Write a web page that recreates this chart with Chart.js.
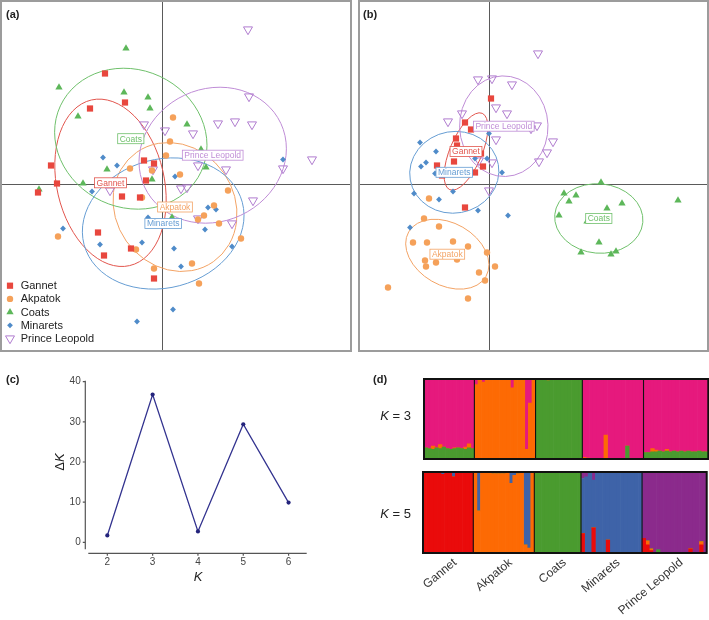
<!DOCTYPE html>
<html>
<head>
<meta charset="utf-8">
<script src="https://cdn.jsdelivr.net/npm/chart.js@4"></script>
<style>
  body { margin: 0; background: #fff; font-family: "Liberation Sans", Arial, sans-serif; }
  #fig { position: relative; width: 709px; height: 620px; overflow: hidden; }
  .frame { position: absolute; border: 2px solid #9c9c9c; }
  .box { position: absolute; }
  .tag { position: absolute; font-weight: bold; font-size: 11px; color: #222; line-height: 12px; }
  .txt { position: absolute; font-size: 13px; color: #222; line-height: 15px; white-space: nowrap; }
</style>
</head>
<body>
<div id="fig">
  <div class="frame" style="left:0;top:0;width:348px;height:348px"><canvas id="pa"></canvas></div>
  <div class="frame" style="left:358px;top:0;width:347px;height:348px"><canvas id="pb"></canvas></div>
  <div class="box" style="left:0;top:340px;width:340px;height:280px"><canvas id="pc"></canvas></div>
  <div class="box" style="left:340px;top:370px;width:369px;height:95px"><canvas id="pd3"></canvas></div>
  <div class="box" style="left:340px;top:465px;width:369px;height:155px"><canvas id="pd5"></canvas></div>

  <div class="tag" style="left:6px;top:8px">(a)</div>
  <div class="tag" style="left:363px;top:8px">(b)</div>
  <div class="tag" style="left:6px;top:373px">(c)</div>
  <div class="tag" style="left:373px;top:373px">(d)</div>
  <div class="txt" style="left:360px;width:51px;top:408px;text-align:right"><i>K</i> = 3</div>
  <div class="txt" style="left:360px;width:51px;top:506px;text-align:right"><i>K</i> = 5</div>
  <div class="txt" style="left:59px;top:462px;transform:translate(-50%,-50%) rotate(-90deg)">Δ<i>K</i></div>
  <div class="txt" style="left:198px;top:576px;transform:translate(-50%,-50%)"><i>K</i></div>
</div>

<script>
"use strict";

// ── Data ─────────────────────────────────────────────────────────────────────

const POPS = ["Gannet", "Akpatok", "Coats", "Minarets", "Prince Leopold"];

// (a) PCA scores, [x, y]
const A_GANNET = [[-5.7,11.0],[-3.7,8.1],[-7.2,7.5],[-11.1,1.8],[-10.5,0.0],[-12.4,-0.9],[-1.8,2.3],[-0.8,2.0],
  [-1.6,0.3],[-4.0,-1.3],[-2.2,-1.4],[-6.4,-4.9],[-3.1,-6.5],[-5.8,-7.2],[-0.8,-9.5]];
const A_AKPATOK = [[1.1,6.6],[0.8,4.2],[0.4,2.8],[-3.2,1.5],[-1.0,1.3],[1.8,0.9],[6.6,-0.7],[-2.0,-1.4],[5.2,-2.2],
  [4.2,-3.2],[5.7,-4.0],[3.6,-3.6],[-10.4,-5.3],[-2.6,-6.6],[7.9,-5.5],[-0.8,-8.5],[3.0,-8.0],[3.7,-10.0]];
const A_COATS = [[-3.6,13.5],[-10.3,9.6],[-3.8,9.1],[-1.4,8.6],[-1.2,7.5],[-8.4,6.7],[2.5,5.9],[3.9,3.4],[4.4,1.6],
  [-5.5,1.4],[-1.0,0.4],[-7.9,0.0],[-12.3,-0.6],[1.0,-3.4]];
const A_MINARETS = [[-5.9,2.6],[-4.5,1.8],[-7.0,-0.8],[1.3,0.7],[-1.4,-3.4],[4.6,-2.4],[5.4,-2.6],[-9.9,-4.5],
  [4.3,-4.6],[-6.2,-6.1],[-2.0,-5.9],[1.2,-6.5],[7.0,-6.3],[1.9,-8.3],[12.1,2.4],[1.1,-12.6],[-2.5,-13.8]];
const A_PRINCE = [[8.6,15.4],[8.7,8.7],[5.6,6.0],[7.3,6.2],[9.0,5.9],[-1.8,5.9],[0.3,5.3],[3.1,5.0],[3.6,1.8],
  [6.4,1.4],[12.1,1.5],[15.0,2.4],[-0.9,1.4],[-5.2,-0.7],[1.9,-0.5],[2.5,-0.4],[9.1,-1.7],[3.6,-3.5],[7.0,-4.0]];
// ellipses: [cx, cy, semi-major, semi-minor, angle deg]
const A_RINGS = [[-5.15,0.07,8.5,5.37,103],[1.3,-2.35,6.68,5.95,125],[-3.12,4.48,7.77,6.88,-25],
  [0.12,-4.0,8.19,6.43,15],[5.07,2.83,7.52,6.63,25]];

// (b) DAPC scores, [x, y]
const B_GANNET = [[0.2,8.5],[-2.4,6.1],[-1.8,5.4],[-3.3,4.5],[-3.2,3.8],[-0.8,3.0],[-3.5,2.2],[-5.2,1.8],
  [-0.6,1.7],[-1.4,1.1],[-4.7,0.8],[-2.4,-2.4]];
const B_AKPATOK = [[-6.0,-1.5],[-6.5,-3.5],[-5.0,-4.3],[-7.6,-5.9],[-6.2,-5.9],[-3.6,-5.8],[-2.1,-6.3],[-0.2,-6.9],
  [-6.4,-7.7],[-6.3,-8.3],[-5.3,-7.9],[-3.2,-7.6],[0.6,-8.3],[-1.0,-8.9],[-0.4,-9.7],[-10.1,-10.4],[-2.1,-11.5]];
const B_COATS = [[11.2,0.1],[7.5,-1.0],[8.7,-1.2],[8.0,-1.8],[13.3,-2.0],[11.8,-2.5],[18.9,-1.7],[7.0,-3.2],
  [9.8,-3.8],[11.0,-5.9],[9.2,-6.9],[12.2,-7.1],[12.7,-6.8]];
const B_MINARETS = [[-6.9,4.1],[-5.3,3.2],[-6.3,2.1],[-6.8,1.7],[-1.4,2.5],[-0.2,2.5],[0.0,5.0],[1.3,1.1],
  [-5.4,1.0],[-7.5,-1.0],[-5.0,-1.6],[-3.6,-0.8],[-1.1,-2.7],[1.9,-3.2],[-7.9,-4.4]];
const B_PRINCE = [[4.9,13.0],[-1.1,10.4],[0.3,10.5],[2.3,9.9],[0.7,7.6],[1.8,7.0],[-2.7,7.0],[-4.1,6.2],[4.8,5.8],
  [4.2,5.5],[0.7,4.4],[6.4,4.2],[5.8,3.1],[5.0,2.2],[0.3,2.1],[-1.0,2.3],[0.0,-0.7]];
const B_RINGS = [[-2.3,3.2,4.15,1.6,67],[-4.17,-7.07,4.46,3.11,-30],[10.98,-3.5,4.42,3.47,-5],
  [-3.47,1.12,4.47,4.08,10],[1.48,5.73,5.03,4.42,92]];

// (c) Evanno delta K
const K_VALUES = [2, 3, 4, 5, 6];
const DELTA_K = [1.7, 36.8, 2.7, 29.4, 9.9];
const DK_TICKS = [0, 10, 20, 30, 40];

// (d) STRUCTURE membership per individual, group order as POPS
const GROUP_SIZES = [14, 17, 13, 17, 18];
const K3_GREEN = [0.14,0.13,0.12,0.14,0.13,0.15,0.13,0.12,0.13,0.14,0.13,0.12,0.14,0.13,
  0,0,0,0,0,0,0,0,0,0,0,0,0,0,0,0,0,
  1,1,1,0.98,1,1,1,1,1,1,1,1,1,
  0,0,0,0,0,0,0,0,0,0,0,0,0.16,0,0,0,0,
  0.08,0.08,0.09,0.09,0.1,0.09,0.1,0.09,0.1,0.09,0.1,0.09,0.1,0.09,0.09,0.1,0.09,0.09];
const K3_ORANGE = [0,0,0.04,0,0.05,0,0,0,0.01,0,0,0.03,0.05,0,
  0.93,1,0.96,1,1,1,1,1,1,1,0.89,1,1,1,0.12,0.7,1,
  0,0,0,0.02,0,0,0,0,0,0,0,0,0,
  0.02,0.01,0,0,0,0,0.3,0,0,0,0,0,0,0,0,0,0,
  0,0,0.04,0.02,0,0,0.02,0,0,0,0,0,0,0,0,0,0,0];
const K3_PINK = [0.86,0.87,0.84,0.86,0.82,0.85,0.87,0.88,0.86,0.86,0.87,0.85,0.81,0.87,
  0.07,0,0.04,0,0,0,0,0,0,0,0.11,0,0,0,0.88,0.3,0,
  0,0,0,0,0,0,0,0,0,0,0,0,0,
  0.98,0.99,1,1,1,1,0.7,1,1,1,1,1,0.84,1,1,1,1,
  0.92,0.92,0.87,0.89,0.9,0.91,0.88,0.91,0.9,0.91,0.9,0.91,0.9,0.91,0.91,0.9,0.91,0.91];

const K5_RED = [1,1,1,1,1,0.97,1,1,0.94,1,1,1,1,1,
  0,0,0,0,0,0,0,0,0,0,0,0,0,0,0,0,0,
  0,0,0,0,0,0,0,0,0,0,0,0,0,
  0.24,0,0,0.31,0,0,0,0.16,0,0,0,0,0,0,0,0,0,
  0.18,0.1,0.03,0,0,0,0,0,0,0,0,0,0,0.05,0,0,0.1,0];
const K5_ORANGE = [0,0,0,0,0,0,0,0,0,0,0,0,0,0,
  1,0.52,1,1,1,0.98,0.98,0.98,0.98,1,0.86,0.96,0.98,1,0.1,0.06,1,
  0,0,0,0,0,0,0,0,0,0,0,0,0,
  0,0,0,0,0,0,0,0,0,0,0,0,0,0,0,0,0,
  0,0.05,0.02,0,0,0,0,0,0,0,0,0,0,0,0,0,0.04,0];
const K5_GREEN = [0,0,0,0,0,0,0,0,0,0,0,0,0,0,
  0,0,0,0,0,0,0,0,0,0,0,0,0,0,0,0,0,
  1,1,1,1,1,1,1,1,1,1,1,1,1,
  0,0,0,0,0,0,0,0,0,0,0,0,0,0,0,0,0,
  0,0,0,0,0.04,0,0,0,0,0,0,0,0,0,0,0,0,0];
const K5_BLUE = [0,0,0,0,0,0.03,0,0,0.06,0,0,0,0,0,
  0,0.48,0,0,0,0.02,0.02,0.02,0.02,0,0.14,0.04,0.02,0,0.9,0.94,0,
  0,0,0,0,0,0,0,0,0,0,0,0,0,
  0.68,0.94,1,0.59,1,1,1,0.84,1,1,1,1,1,1,1,1,1,
  0,0,0,0,0,0,0,0,0,0,0,0,0,0,0,0,0,0];
const K5_PURPLE = [0,0,0,0,0,0,0,0,0,0,0,0,0,0,
  0,0,0,0,0,0,0,0,0,0,0,0,0,0,0,0,0,
  0,0,0,0,0,0,0,0,0,0,0,0,0,
  0.08,0.06,0,0.1,0,0,0,0,0,0,0,0,0,0,0,0,0,
  0.82,0.85,0.95,1,0.96,1,1,1,1,1,1,1,1,0.95,1,1,0.86,1];

// ── Styles ───────────────────────────────────────────────────────────────────

const POP_COLORS  = ["#e8473e", "#f5a15a", "#5db75a", "#4f8bc9", "#b07ccf"];
const RING_COLORS = ["#e2554d", "#f3a365", "#6fc06b", "#669dd3", "#bf8cd6"];
const MARKERS = [
  { style: "rect", r: 4.4, rot: 0 },
  { style: "circle", r: 3.2, rot: 0 },
  { style: "triangle", r: 4.2, rot: 0 },
  { style: "rectRot", r: 2.9, rot: 0 },
  { style: "triangle", r: 5.2, rot: 180 },
];
const FONT = "'Liberation Sans', Arial, sans-serif";

Chart.defaults.font.family = FONT;
Chart.defaults.animation = false;
Chart.defaults.plugins.legend.display = false;
Chart.defaults.plugins.tooltip.enabled = false;

// ── Scatter panels (a), (b) ──────────────────────────────────────────────────

function drawMarker(ctx, i, x, y) {
  const m = MARKERS[i];
  ctx.beginPath();
  if (m.style === "rect") {
    const s = Math.SQRT1_2 * m.r;
    ctx.rect(x - s, y - s, 2 * s, 2 * s);
  } else if (m.style === "circle") {
    ctx.arc(x, y, m.r, 0, Math.PI * 2);
  } else if (m.style === "rectRot") {
    ctx.moveTo(x, y - m.r); ctx.lineTo(x + m.r, y); ctx.lineTo(x, y + m.r); ctx.lineTo(x - m.r, y);
    ctx.closePath();
  } else {
    const d = m.rot ? -1 : 1;
    ctx.moveTo(x, y - d * m.r);
    ctx.lineTo(x + m.r * 0.866, y + d * m.r * 0.5);
    ctx.lineTo(x - m.r * 0.866, y + d * m.r * 0.5);
    ctx.closePath();
  }
  if (i === 4) { ctx.strokeStyle = POP_COLORS[i]; ctx.lineWidth = 1; ctx.stroke(); }
  else { ctx.fillStyle = POP_COLORS[i]; ctx.fill(); }
}

function makeDecor(rings, withLegend) {
  return {
    id: "decor",
    beforeDatasetsDraw(chart) {
      const { ctx, chartArea: a, scales: { x, y } } = chart;
      ctx.save();
      ctx.strokeStyle = "#5a5a5a";
      ctx.lineWidth = 1;
      const x0 = Math.round(x.getPixelForValue(0)) + 0.5;
      const y0 = Math.round(y.getPixelForValue(0)) + 0.5;
      ctx.beginPath();
      ctx.moveTo(x0, a.top); ctx.lineTo(x0, a.bottom);
      ctx.moveTo(a.left, y0); ctx.lineTo(a.right, y0);
      ctx.stroke();

      const unit = x.getPixelForValue(1) - x.getPixelForValue(0);
      rings.forEach((e, i) => {
        ctx.beginPath();
        ctx.ellipse(x.getPixelForValue(e[0]), y.getPixelForValue(e[1]), e[2] * unit, e[3] * unit,
          -e[4] * Math.PI / 180, 0, Math.PI * 2);
        ctx.strokeStyle = RING_COLORS[i];
        ctx.lineWidth = 1;
        ctx.stroke();
      });
      ctx.restore();
    },
    afterDatasetsDraw(chart) {
      const { ctx, scales: { x, y } } = chart;
      ctx.save();
      ctx.font = "8.5px " + FONT;
      ctx.textAlign = "center";
      ctx.textBaseline = "middle";
      rings.forEach((e, i) => {
        const cx = x.getPixelForValue(e[0]), cy = y.getPixelForValue(e[1]);
        const w = ctx.measureText(POPS[i]).width + 4, h = 10;
        ctx.fillStyle = "#fff";
        ctx.fillRect(cx - w / 2, cy - h / 2, w, h);
        ctx.strokeStyle = RING_COLORS[i];
        ctx.lineWidth = 0.8;
        ctx.strokeRect(cx - w / 2, cy - h / 2, w, h);
        ctx.fillStyle = RING_COLORS[i];
        ctx.fillText(POPS[i], cx, cy + 0.5);
      });

      if (withLegend) {
        ctx.font = "11px " + FONT;
        ctx.textAlign = "left";
        POPS.forEach((name, i) => {
          const ly = 283.7 + i * 13.2;
          drawMarker(ctx, i, 8, ly);
          ctx.fillStyle = "#222";
          ctx.fillText(name, 18.7, ly + 0.5);
        });
      }
      ctx.restore();
    },
  };
}

function makeScatter(id, groups, rings, xMin, xMax, withLegend) {
  new Chart(document.getElementById(id), {
    type: "scatter",
    data: {
      datasets: groups.map((pts, i) => ({
        label: POPS[i],
        data: pts.map(p => ({ x: p[0], y: p[1] })),
        pointStyle: MARKERS[i].style,
        pointRadius: MARKERS[i].r,
        pointRotation: MARKERS[i].rot,
        pointBackgroundColor: i === 4 ? "rgba(0,0,0,0)" : POP_COLORS[i],
        pointBorderColor: POP_COLORS[i],
        pointBorderWidth: i === 4 ? 1 : 0,
      })),
    },
    options: {
      responsive: true,
      maintainAspectRatio: false,
      layout: { autoPadding: false, padding: 0 },
      scales: {
        x: { type: "linear", display: false, min: xMin, max: xMax },
        y: { type: "linear", display: false, min: -16.65, max: 18.15 },
      },
    },
    plugins: [makeDecor(rings, withLegend)],
  });
}

makeScatter("pa", [A_GANNET, A_AKPATOK, A_COATS, A_MINARETS, A_PRINCE], A_RINGS, -16.0, 18.8, true);
makeScatter("pb", [B_GANNET, B_AKPATOK, B_COATS, B_MINARETS, B_PRINCE], B_RINGS, -12.9, 21.8, false);

// ── (c) delta K line ─────────────────────────────────────────────────────────

const axisLines = {
  id: "axisLines",
  afterDraw(chart) {
    const { ctx, chartArea: a, scales: { x, y } } = chart;
    ctx.save();
    ctx.strokeStyle = "#555";
    ctx.lineWidth = 1.2;
    const ax = a.left - 3;
    ctx.beginPath();
    ctx.moveTo(ax, a.top); ctx.lineTo(ax, y.getPixelForValue(-1.75));
    DK_TICKS.forEach(v => { const py = y.getPixelForValue(v); ctx.moveTo(ax, py); ctx.lineTo(ax - 2.5, py); });
    ctx.moveTo(a.left, a.bottom); ctx.lineTo(a.right, a.bottom);
    K_VALUES.forEach(v => { const px = x.getPixelForValue(v); ctx.moveTo(px, a.bottom); ctx.lineTo(px, a.bottom + 2.5); });
    ctx.stroke();
    ctx.restore();
  },
};

new Chart(document.getElementById("pc"), {
  type: "line",
  data: {
    datasets: [{
      data: K_VALUES.map((k, i) => ({ x: k, y: DELTA_K[i] })),
      borderColor: "#33338f",
      borderWidth: 1.3,
      pointRadius: 2.1,
      pointBackgroundColor: "#24247c",
      pointBorderWidth: 0,
      tension: 0,
    }],
  },
  options: {
    responsive: true,
    maintainAspectRatio: false,
    layout: { padding: { top: 40.7, right: 33.3, left: 0, bottom: 0 } },
    scales: {
      x: {
        type: "linear", min: 1.58, max: 6.4,
        grid: { display: false, drawTicks: false }, border: { display: false },
        afterBuildTicks: s => { s.ticks = K_VALUES.map(v => ({ value: v })); },
        afterFit: s => { s.height = 66.7; },
        ticks: { font: { size: 10 }, color: "#444", padding: 3 },
      },
      y: {
        type: "linear", min: -2.74, max: 40.25,
        grid: { display: false, drawTicks: false }, border: { display: false },
        afterBuildTicks: s => { s.ticks = DK_TICKS.map(v => ({ value: v })); },
        afterFit: s => { s.width = 88.3; },
        ticks: { font: { size: 10 }, color: "#444", padding: 7.6 },
      },
    },
  },
  plugins: [axisLines],
});

// ── (d) STRUCTURE bars ───────────────────────────────────────────────────────

const nInd = GROUP_SIZES.reduce((s, v) => s + v, 0);
const indLabels = Array.from({ length: nInd }, (_, i) => String(i + 1));
const bounds = [];
GROUP_SIZES.reduce((start, n) => { bounds.push(start + n); return start + n; }, 0);

function groupEdges(x) {
  // pixel edges of each population block, from the category scale
  const edges = [x.left];
  bounds.slice(0, -1).forEach(b => edges.push((x.getPixelForValue(b - 1) + x.getPixelForValue(b)) / 2));
  edges.push(x.right);
  return edges;
}

function makeFrame(withNames) {
  return {
    id: "structFrame",
    afterDatasetsDraw(chart) {
      const { ctx, chartArea: a, scales: { x } } = chart;
      const edges = groupEdges(x);
      ctx.save();
      ctx.strokeStyle = "#111";
      ctx.lineWidth = 1.1;
      ctx.beginPath();
      edges.slice(1, -1).forEach(px => { ctx.moveTo(px, a.top); ctx.lineTo(px, a.bottom); });
      ctx.stroke();
      ctx.lineWidth = 2;
      ctx.strokeRect(a.left, a.top, a.right - a.left, a.bottom - a.top);

      if (withNames) {
        ctx.font = "12px " + FONT;
        ctx.fillStyle = "#333";
        ctx.textAlign = "right";
        ctx.textBaseline = "middle";
        POPS.forEach((name, i) => {
          const cx = (edges[i] + edges[i + 1]) / 2 + 7;
          ctx.save();
          ctx.translate(cx, a.bottom + 8);
          ctx.rotate(-40 * Math.PI / 180);
          ctx.fillText(name, 0, 0);
          ctx.restore();
        });
      }
      ctx.restore();
    },
  };
}

function barSet(data, color) {
  return { data, backgroundColor: color, borderWidth: 0, barPercentage: 1, categoryPercentage: 1 };
}

new Chart(document.getElementById("pd3"), {
  type: "bar",
  data: {
    labels: indLabels,
    datasets: [barSet(K3_GREEN, "#4a9b2f"), barSet(K3_ORANGE, "#fd6a04"), barSet(K3_PINK, "#e6197d")],
  },
  options: {
    responsive: true,
    maintainAspectRatio: false,
    layout: { padding: { left: 84, right: 0.7, top: 9, bottom: 6 } },
    scales: {
      x: { stacked: true, display: false },
      y: { stacked: true, display: false, min: 0, max: 1 },
    },
  },
  plugins: [makeFrame(false)],
});

new Chart(document.getElementById("pd5"), {
  type: "bar",
  data: {
    labels: indLabels,
    datasets: [
      barSet(K5_RED, "#ea0b0b"), barSet(K5_ORANGE, "#fd6a04"), barSet(K5_GREEN, "#4a9b2f"),
      barSet(K5_BLUE, "#3e63a8"), barSet(K5_PURPLE, "#8b2a8c"),
    ],
  },
  options: {
    responsive: true,
    maintainAspectRatio: false,
    layout: { padding: { left: 83, right: 2.3, top: 7, bottom: 67 } },
    scales: {
      x: { stacked: true, display: false },
      y: { stacked: true, display: false, min: 0, max: 1 },
    },
  },
  plugins: [makeFrame(true)],
});
</script>
</body>
</html>
